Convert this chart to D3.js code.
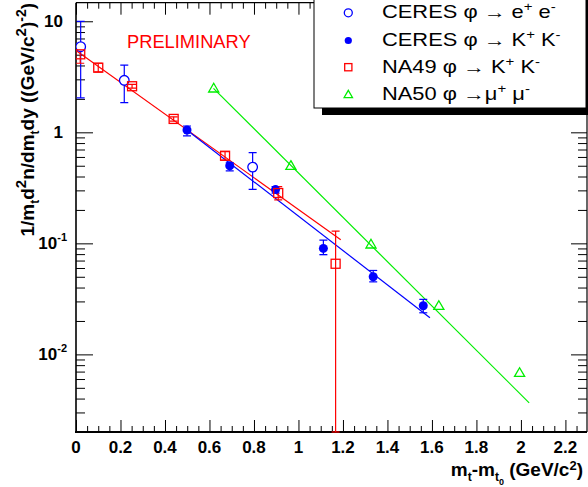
<!DOCTYPE html>
<html><head><meta charset="utf-8">
<script src="https://cdn.jsdelivr.net/npm/d3@7"></script>
<style>
html,body{margin:0;padding:0;background:#fff;}
svg{display:block;}
text{font-family:"Liberation Sans",Arial,Helvetica,sans-serif;}
</style></head>
<body>
<svg id="c" width="588" height="487"></svg>
<script>
// ---------- data ----------
const ceresEE_x  = [0.021, 0.217, 0.794];
const ceresEE_y  = [5.9, 2.94, 0.486];
const ceresEE_lo = [2.04, 1.85, 0.306];
const ceresEE_hi = [10.0, 4.03, 0.655];

const ceresKK_x  = [0.499, 0.691, 0.897, 1.112, 1.336, 1.561];
const ceresKK_y  = [1.05, 0.50, 0.305, 0.090, 0.050, 0.0274];
const ceresKK_lo = [0.93, 0.45, 0.283, 0.079, 0.045, 0.0237];
const ceresKK_hi = [1.14, 0.53, 0.324, 0.107, 0.057, 0.0313];

const na49_x  = [0.019, 0.100, 0.252, 0.439, 0.670, 0.909, 1.167];
const na49_y  = [5.04, 3.82, 2.60, 1.32, 0.615, 0.284, 0.0655];
const na49_lo = [4.19, 3.50, 2.50, 1.26, 0.563, 0.246, 0.0005];
const na49_hi = [5.78, 4.19, 2.70, 1.38, 0.668, 0.324, 0.129];

const na50_x = [0.619, 0.966, 1.326, 1.631, 1.994];
const na50_y = [2.49, 0.50, 0.098, 0.0274, 0.00683];

const fitRed_x   = [0.0, 1.19];
const fitRed_y   = [5.45, 0.108];
const fitBlue_x  = [0.485, 1.591];
const fitBlue_y  = [1.10, 0.0214];
const fitGreen_x = [0.618, 2.037];
const fitGreen_y = [2.49, 0.00366];

const xTickLabels = ["0","0.2","0.4","0.6","0.8","1","1.2","1.4","1.6","1.8","2","2.2"];
const xTickValues = [0,0.2,0.4,0.6,0.8,1.0,1.2,1.4,1.6,1.8,2.0,2.2];
const yTickValues = [10, 1, 0.1, 0.01];
const yTickBase   = ["10","1","10","10"];
const yTickExp    = ["","","-1","-2"];

const legendLabels = [
  {t:[["CERES \u03c6 \u2192 e",0],["+",1],[" e",0],["-",1]]},
  {t:[["CERES \u03c6 \u2192 K",0],["+",1],[" K",0],["-",1]]},
  {t:[["NA49 \u03c6  \u2192 K",0],["+",1],[" K",0],["-",1]]},
  {t:[["NA50 \u03c6 \u2192\u03bc",0],["+",1],[" \u03bc",0],["-",1]]}
];

// ---------- scales ----------
const L=76, R=587, T=2.7, B=432;
const x = d3.scaleLinear().domain([0,2.297]).range([L,R]);
const y = d3.scaleLog().domain([0.002,14.7]).range([B,T]).clamp(true);

const svg = d3.select("#c");
const BLUE="#0000ff", RED="#ff0000", GREEN="#00ee00";

svg.append("defs").append("clipPath").attr("id","clip")
  .append("rect").attr("x",L).attr("y",T).attr("width",R-L).attr("height",B-T+6);

// ---------- axes / ticks ----------
const xMinor = d3.range(0,2.3,0.05).filter(v=>Math.abs(v/0.2-Math.round(v/0.2))>1e-6);
const yMinor = [];
[0.001,0.01,0.1,1,10].forEach(d=>{for(let k=2;k<=9;k++){const v=d*k; if(v>=0.002&&v<=14.7) yMinor.push(v);}});

function ax(gen, tv, size, tr){
  const g = svg.append("g").attr("transform",tr)
    .call(gen.tickValues(tv).tickSize(size).tickFormat(""));
  g.select(".domain").remove();
  g.selectAll("line").attr("stroke","#000").attr("stroke-width",1);
}
ax(d3.axisTop(x), xTickValues, 12, `translate(0,${B})`);
ax(d3.axisTop(x), xMinor, 6, `translate(0,${B})`);
ax(d3.axisBottom(x), xTickValues, 12, `translate(0,${T})`);
ax(d3.axisBottom(x), xMinor, 6, `translate(0,${T})`);
ax(d3.axisRight(y), yTickValues, 17, `translate(${L},0)`);
ax(d3.axisRight(y), yMinor, 9, `translate(${L},0)`);
ax(d3.axisLeft(y), yTickValues, 16, `translate(${R},0)`);
ax(d3.axisLeft(y), yMinor, 9, `translate(${R},0)`);

// frame
svg.append("line").attr("x1",L).attr("x2",R).attr("y1",T).attr("y2",T).attr("stroke","#000").attr("stroke-width",1.2);
svg.append("line").attr("x1",R).attr("x2",R).attr("y1",T).attr("y2",B).attr("stroke","#000").attr("stroke-width",1.2);
svg.append("line").attr("x1",L).attr("x2",L).attr("y1",T).attr("y2",B+1).attr("stroke","#000").attr("stroke-width",1.6);
svg.append("line").attr("x1",L-1).attr("x2",R).attr("y1",B).attr("y2",B).attr("stroke","#000").attr("stroke-width",2);

// x tick labels
svg.append("g").selectAll("text").data(xTickValues).join("text")
  .attr("x",d=>x(d)).attr("y",453).attr("text-anchor","middle")
  .attr("font-size",17).attr("font-weight","bold").text((d,i)=>xTickLabels[i]);

// y tick labels
yTickValues.forEach((v,i)=>{
  const t = svg.append("text").attr("x", yTickExp[i] ? 67 : 63).attr("y", y(v)+6)
    .attr("text-anchor","end").attr("font-size",17).attr("font-weight","bold");
  t.append("tspan").text(yTickBase[i]);
  if(yTickExp[i]) t.append("tspan").attr("dy",-8).attr("font-size",11).text(yTickExp[i]);
});

// axis titles
const xt = svg.append("text").attr("x",583).attr("y",476).attr("text-anchor","end")
  .attr("font-size",19).attr("font-weight","bold");
xt.append("tspan").text("m");
xt.append("tspan").attr("dy",5).attr("font-size",12).text("t");
xt.append("tspan").attr("dy",-5).text("-m");
xt.append("tspan").attr("dy",5).attr("font-size",12).text("t");
xt.append("tspan").attr("dy",4).attr("font-size",9).text("0");
xt.append("tspan").attr("dy",-9).text(" (GeV/c");
xt.append("tspan").attr("dy",-6).attr("font-size",13).text("2");
xt.append("tspan").attr("dy",6).text(")");

const yt = svg.append("text").attr("transform","translate(34,3) rotate(-90)").attr("text-anchor","end")
  .attr("font-size",19).attr("font-weight","bold");
yt.append("tspan").text("1/m");
yt.append("tspan").attr("dy",5).attr("font-size",12).text("t");
yt.append("tspan").attr("dy",-5).text("d");
yt.append("tspan").attr("dy",-8).attr("font-size",15).text("2");
yt.append("tspan").attr("dy",8).text("n/dm");
yt.append("tspan").attr("dy",5).attr("font-size",12).text("t");
yt.append("tspan").attr("dy",-5).text("dy ((GeV/c");
yt.append("tspan").attr("dy",-8).attr("font-size",15).text("2");
yt.append("tspan").attr("dy",8).text(")");
yt.append("tspan").attr("dy",-8).attr("font-size",14).text("-2");
yt.append("tspan").attr("dy",8).text(")");

// PRELIMINARY
svg.append("text").attr("x",127).attr("y",48).attr("font-size",18.3).attr("fill",RED).text("PRELIMINARY");

// ---------- plot ----------
const plot = svg.append("g").attr("clip-path","url(#clip)");
const line = d3.line().x(d=>x(d[0])).y(d=>y(d[1]));
function fit(xs,ys,col){
  plot.append("path").attr("d",line(xs.map((v,i)=>[v,ys[i]]))).attr("fill","none")
    .attr("stroke",col).attr("stroke-width",1.2);
}
fit(fitRed_x,fitRed_y,RED);
fit(fitBlue_x,fitBlue_y,BLUE);
fit(fitGreen_x,fitGreen_y,GREEN);

function errs(xs,lo,hi,col){
  xs.forEach((v,i)=>{
    const g = plot.append("g").attr("stroke",col).attr("stroke-width",1.2);
    g.append("line").attr("x1",x(v)).attr("x2",x(v)).attr("y1",y(lo[i])).attr("y2",y(hi[i]));
    g.append("line").attr("x1",x(v)-4).attr("x2",x(v)+4).attr("y1",y(hi[i])).attr("y2",y(hi[i]));
    g.append("line").attr("x1",x(v)-4).attr("x2",x(v)+4).attr("y1",y(lo[i])).attr("y2",y(lo[i]));
  });
}
errs(ceresEE_x,ceresEE_lo,ceresEE_hi,BLUE);
errs(ceresKK_x,ceresKK_lo,ceresKK_hi,BLUE);
errs(na49_x,na49_lo,na49_hi,RED);

const tri = s => `M0,${-s*0.55}L${s*0.55},${s*0.4}L${-s*0.55},${s*0.4}Z`;
function marker(g,type,cx,cy,s){
  if(type==="oc") g.append("circle").attr("cx",cx).attr("cy",cy).attr("r",s).attr("fill","#fff").attr("stroke",BLUE).attr("stroke-width",1.3);
  if(type==="fc") g.append("circle").attr("cx",cx).attr("cy",cy).attr("r",s).attr("fill",BLUE);
  if(type==="sq") g.append("rect").attr("x",cx-s).attr("y",cy-s).attr("width",2*s).attr("height",2*s).attr("fill","none").attr("stroke",RED).attr("stroke-width",1.3);
  if(type==="tr") g.append("path").attr("d",tri(2*s)).attr("transform",`translate(${cx},${cy})`).attr("fill","none").attr("stroke",GREEN).attr("stroke-width",1.3);
}
ceresEE_x.forEach((v,i)=>marker(plot,"oc",x(v),y(ceresEE_y[i]),4.8));
ceresKK_x.forEach((v,i)=>marker(plot,"fc",x(v),y(ceresKK_y[i]),4.5));
na49_x.forEach((v,i)=>marker(plot,"sq",x(v),y(na49_y[i]),4.5));
na50_x.forEach((v,i)=>marker(plot,"tr",x(v),y(na50_y[i]),4.6));

// ---------- legend ----------
const lg = svg.append("g");
lg.append("rect").attr("x",322).attr("y",-1).attr("width",272).attr("height",116).attr("fill","#000");
lg.append("rect").attr("x",314).attr("y",-1).attr("width",272).attr("height",109).attr("fill","#fff").attr("stroke","#000").attr("stroke-width",1);
const rowY = [18.3, 46, 72.7, 100];
const types = ["oc","fc","sq","tr"];
const sizes = [4, 3.6, 3.6, 3.8];
legendLabels.forEach((lab,i)=>{
  marker(lg,types[i],348.3,rowY[i]-5.5,sizes[i]);
  const t = lg.append("text").attr("transform",`translate(382,${rowY[i]}) scale(1.25,1)`).attr("font-size",17.5);
  lab.t.forEach(([s,sup],j)=>{
    const sp = t.append("tspan").text(s);
    const prev = j>0 ? lab.t[j-1][1] : 0;
    if(sup){ sp.attr("font-size",12).attr("dy",-7); }
    else if(prev){ sp.attr("dy",7); }
  });
});
</script>
</body></html>
